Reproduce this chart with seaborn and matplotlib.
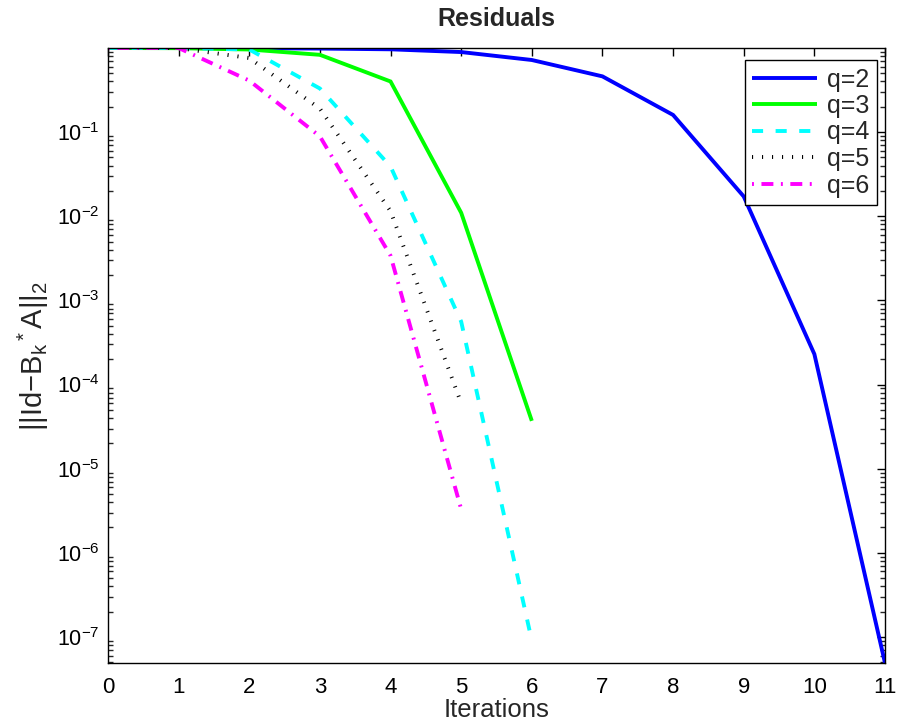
import matplotlib
matplotlib.use("Agg")
import matplotlib.pyplot as plt
import matplotlib.ticker as mticker
import seaborn as sns
import numpy as np

# ---- data ----
iters_q2 = [0, 1, 2, 3, 4, 5, 6, 7, 8, 9, 10, 11]
res_q2 = [1.0, 1.0, 0.995, 0.985, 0.965, 0.895, 0.72, 0.46, 0.16, 0.0172, 2.3e-4, 4.9e-8]

iters_q3 = [0, 1, 2, 3, 4, 5, 6]
res_q3 = [1.0, 0.995, 0.96, 0.83, 0.40, 0.011, 3.7e-5]

iters_q4 = [0, 1, 2, 3, 4, 5, 6]
res_q4 = [1.0, 1.0, 0.96, 0.33, 0.039, 5.6e-4, 9e-8]

iters_q5 = [0, 1, 2, 3, 4, 5]
res_q5 = [1.0, 1.0, 0.76, 0.19, 0.0115, 6.0e-5]

iters_q6 = [0, 1, 2, 3, 4, 5]
res_q6 = [1.0, 1.0, 0.41, 0.089, 3.4e-3, 3.3e-6]

labels = ["q=2", "q=3", "q=4", "q=5", "q=6"]
colors = ["#0000ff", "#00ff00", "#00ffff", "#000000", "#ff00ff"]
styles = ["-", "-", (0, (8.0, 9.0)), (0, (0.8, 6.4)), (0, (1.4, 5.4, 8.6, 5.4))]

xticks = list(range(0, 12))
yticks = [1e-7, 1e-6, 1e-5, 1e-4, 1e-3, 1e-2, 1e-1]

sns.set_theme(style="white")
plt.rcParams["font.family"] = ["Liberation Sans", "DejaVu Sans"]
plt.rcParams["lines.scale_dashes"] = False
plt.rcParams["mathtext.fontset"] = "custom"
plt.rcParams["mathtext.rm"] = "Liberation Sans"
plt.rcParams["mathtext.it"] = "Liberation Sans:italic"

fig = plt.figure(figsize=(8.97, 7.24), dpi=100)
ax = fig.add_axes([108 / 897, 1 - 663 / 724, (885 - 108) / 897, (663 - 48) / 724])

series = [(iters_q2, res_q2), (iters_q3, res_q3), (iters_q4, res_q4),
          (iters_q5, res_q5), (iters_q6, res_q6)]
for (xs, ys), lab, col, ls in zip(series, labels, colors, styles):
    sns.lineplot(x=xs, y=ys, ax=ax, color=col, linestyle=ls, linewidth=2.8,
                 label=lab, solid_joinstyle="miter", solid_capstyle="butt")

ax.set_yscale("log")
all_y = np.concatenate([np.asarray(s[1]) for s in series])
ax.set_ylim(all_y.min(), all_y.max())
ax.set_xlim(min(xticks), max(xticks))
ax.set_xticks(xticks)
ax.set_yticks(yticks)
ax.yaxis.set_minor_locator(mticker.LogLocator(base=10, subs=np.arange(2, 10), numticks=20))
ax.yaxis.set_major_formatter(mticker.LogFormatterSciNotation())
ax.yaxis.set_minor_formatter(mticker.NullFormatter())

for s in ax.spines.values():
    s.set_color("black")
    s.set_linewidth(1.0)
    s.set_visible(True)
ax.tick_params(axis="both", which="major", direction="in", length=6, width=1,
               top=True, right=True, labelsize=16, colors="black")
ax.tick_params(axis="x", which="major", pad=10)
ax.tick_params(axis="y", which="major", pad=6, labelsize=15.5)
ax.tick_params(axis="y", which="minor", direction="in", length=3.5, width=1,
               left=True, right=True)
ax.tick_params(axis="x", which="minor", bottom=False, top=False)
ax.grid(False)

ax.set_title("Residuals", fontsize=18, fontweight="bold", pad=16)
ax.set_xlabel("Iterations", fontsize=18.5, labelpad=0)
ax.set_ylabel(r"$\mathregular{||Id{-}B_k{}^*A||_2}$", fontsize=21, labelpad=4)

leg = ax.legend(loc="upper right", bbox_to_anchor=(877 / 897, 1 - 60 / 724),
                bbox_transform=fig.transFigure, fontsize=18, frameon=True,
                fancybox=False, shadow=False, handlelength=2.6, handletextpad=0.4,
                labelspacing=0.1, borderpad=0.3, borderaxespad=0)
leg.get_frame().set_edgecolor("black")
leg.get_frame().set_linewidth(1.0)
leg.get_frame().set_alpha(1)

fig.savefig("out.png", dpi=100, facecolor="white")
